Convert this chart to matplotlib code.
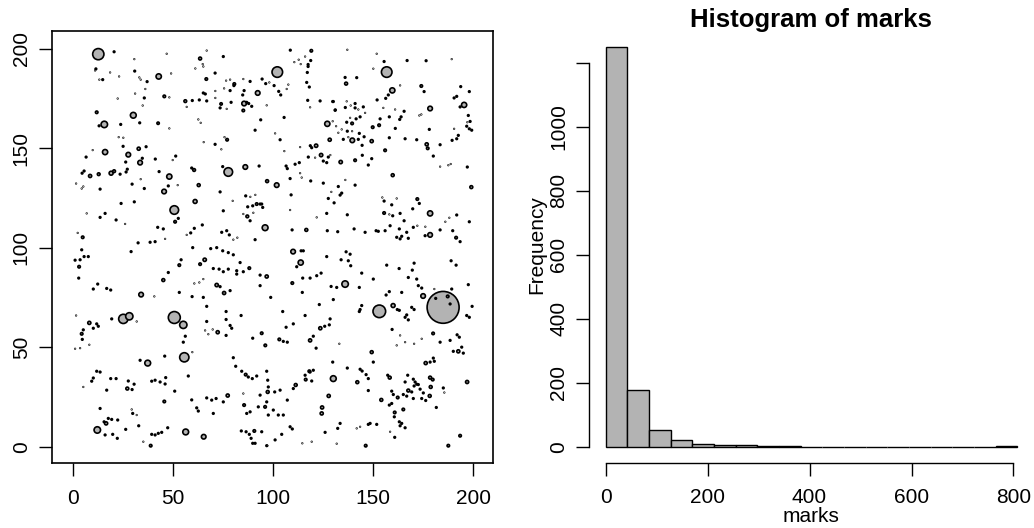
import numpy as np
import matplotlib
matplotlib.use("Agg")
import matplotlib.pyplot as plt
from matplotlib.patches import Circle
from matplotlib.collections import PatchCollection

plt.rcParams['font.family'] = ['Liberation Sans', 'DejaVu Sans']

# circles with a visible gray centre: (x, y, mark)
rings = [
    (12.5, 197.2, 284), (42.7, 186, 134), (45.5, 176, 64), (56, 173.6, 69), (11.7, 168, 64),
    (30, 166.5, 147), (15.5, 161.9, 163), (42.4, 162.5, 60), (15.9, 148, 131), (32.7, 149.7, 79),
    (27.5, 146.7, 116), (33.4, 142.7, 116),
    (63.4, 195, 74), (66.5, 184.7, 63), (80.5, 182.2, 63), (92.2, 177.7, 116), (73.9, 172.2, 60),
    (85.4, 172.4, 116), (85, 168.9, 63), (102, 188.2, 267), (119, 198.9, 63), (127, 162.2, 131),
    (128.2, 154.2, 79), (121.4, 151.2, 84), (123.9, 146.5, 84), (76.9, 154.2, 63), (77.5, 138, 217),
    (86, 140.5, 116), (60.4, 139, 69),
    (156.7, 188.2, 267), (136.4, 182.4, 74), (159.5, 179, 131), (174, 181.2, 63), (195.4, 171.7, 131),
    (178.4, 169.9, 116), (139.4, 162.4, 63), (139.5, 153.9, 116), (149.7, 160.5, 63), (152.9, 161.5, 63),
    (149.2, 153.5, 79), (155.9, 148.9, 63), (133.7, 143, 84), (140.9, 143.9, 63), (176.7, 151.9, 79),
    (177.2, 149.9, 63),
    (8.4, 136, 79), (12.7, 136.9, 69), (18.9, 137.4, 100), (20.4, 138.4, 69), (48, 135.7, 131),
    (45.4, 128.2, 116), (62.7, 131.4, 74), (96.9, 133.4, 74), (60.9, 123.2, 100), (91.7, 121.9, 63),
    (87, 115.7, 69), (95.9, 110, 147), (50.5, 118.9, 217), (50.9, 113, 63), (4.7, 105.2, 63),
    (101.7, 131.4, 116), (159.7, 136.4, 74), (199, 130.4, 74), (116.5, 108.9, 74), (172, 124.4, 63),
    (178.4, 117.2, 131), (155.4, 117.4, 63), (178.4, 106.4, 116), (191.4, 105, 63),
    (2.9, 90.4, 63), (8, 62.2, 79), (4.2, 56.7, 63), (25, 64.2, 234), (28, 65.5, 184),
    (33.9, 76.4, 116), (50.5, 64.9, 302), (55, 61.2, 184), (55.5, 44.9, 234), (37.2, 42, 147),
    (45, 83.7, 74), (53, 91.2, 63), (65.7, 93.9, 84), (63.4, 91.7, 63), (71.7, 81.2, 84),
    (75.4, 77.2, 79), (88, 89.7, 63), (96.7, 85.5, 79), (72.2, 57.5, 79), (94.2, 57, 63),
    (96, 50.9, 63), (86.2, 36.2, 63), (97.2, 27.5, 74), (85.4, 20.9, 63), (27, 29.2, 74),
    (45.5, 22.7, 63), (77.2, 25.7, 79), (16.4, 11.7, 79), (12, 8.4, 163), (56.2, 7.4, 147),
    (65.2, 5, 116), (38.7, 0.5, 63), (90.5, 7.9, 63),
    (109.9, 98, 116), (113.7, 92.5, 131), (109.5, 82.2, 63), (135.9, 81.7, 163), (153, 68, 319),
    (159.9, 70.9, 100), (174.9, 75.7, 116), (184.9, 70, 808), (187.2, 75.5, 63), (179.9, 56.9, 63),
    (192.5, 47.9, 79), (176.2, 42, 79), (196.9, 32.5, 79), (149.2, 47.5, 74), (158.2, 34.7, 74),
    (142, 32.4, 74), (154, 23.5, 74), (167.5, 28.2, 74), (162.2, 24.7, 63), (178.4, 34.7, 74),
    (179.7, 33.7, 63), (178.7, 30, 74), (178.2, 25.5, 74), (165, 18.7, 63), (160.7, 17.2, 63),
    (193.4, 5.5, 63), (187.5, 0.5, 63), (146.2, 0.5, 63), (130, 34.2, 147), (127.7, 25.5, 79),
    (124.4, 19.7, 79), (124.2, 16.7, 79), (118, 37.9, 63), (116.2, 33.7, 63), (111.2, 31, 74),
    (95.9, 20, 63), (103, 53.9, 63), (118.4, 53.4, 79), (123.5, 59.5, 79),
]

# small solid dots (x, y)
dot_mark = 40
dots = [
    (20.4, 198.4), (11.3, 189.8), (30.7, 188.7), (14.7, 184.4), (36.9, 183.4), (35.5, 175.2),
    (12.9, 161.2), (23.7, 161.9), (33.2, 162.7), (24.9, 150.9), (36.4, 150.7), (34.5, 144.9),
    (6.4, 145.5), (41, 144.5), (51.2, 146), (26.2, 143),
    (75, 196), (70.9, 187.7), (88.4, 183.5), (78.4, 178.9), (85.4, 178.9), (65, 177.7), (66, 177.2),
    (84.7, 176.7), (59.5, 173.9), (63, 174.2), (66.7, 173.7), (73.4, 170.2), (78.9, 173), (86.7, 173),
    (87.7, 172.4), (89.2, 171), (93.7, 164.2), (105.4, 165.4), (90.9, 159), (70.9, 151.9),
    (103.4, 154.2), (108.5, 199.2), (118.7, 194), (117.4, 192), (117.4, 191), (117, 188), (116.7, 183),
    (118, 180.7), (117.2, 174), (123.4, 173.7), (129.7, 173.4), (130.9, 169), (94.4, 184.7),
    (96.2, 182.4), (100.4, 181.4), (102.7, 178.5), (103.7, 176.7), (118.5, 151.2), (119.2, 150.2),
    (127.5, 145.5), (125, 143.5), (126.7, 142.7), (117.5, 145.5), (106.4, 141), (107, 139.7),
    (110.9, 141.9), (113, 142.7), (80.3, 181.4), (59.2, 140),
    (155.4, 193.5), (166.9, 194), (176.4, 193.9), (141.7, 185.4), (135.9, 185.5), (175.4, 178.4),
    (193.7, 180.9), (198, 178.4), (190.4, 175.2), (191.7, 176), (193.4, 170.7), (197.5, 166.4),
    (198.4, 163.4), (196.7, 161), (198, 159.7), (199.2, 159), (151.9, 174.2), (156.2, 175),
    (157.5, 176.7), (130, 173.4), (131, 169.2), (136, 170.4), (140.9, 172.4), (144.5, 146.4),
    (149.2, 144.7), (147.5, 141.5), (158, 155.2), (161, 159.9), (163.9, 165.7), (163.2, 164.4),
    (165.4, 168.5), (158, 165.7), (153.4, 164.7), (165.9, 154.7), (171.7, 154.2), (178, 159.4),
    (180, 146), (183.4, 151.7), (189.4, 153.9), (191.7, 154.7), (192.5, 156.4), (197, 140.5),
    (135, 154.4), (144.4, 151.4), (140.9, 170.2), (145, 170.7), (143.4, 165.7), (141.4, 164.7),
    (136.7, 163), (137, 158.5), (143, 157.4), (145.4, 155.7), (142.5, 154.4),
    (23.4, 136.9), (26.4, 138), (27, 139.4), (4.4, 137.4), (5.4, 138.5), (13.4, 129.4), (29.4, 131.9),
    (35.5, 129.7), (47.5, 131), (42.9, 138.2), (73.4, 128), (74.7, 140.7), (92.9, 141), (75, 118.5),
    (86.2, 126), (87.2, 120.5), (89.7, 121), (93.4, 121.9), (88.4, 113.5), (90.9, 104), (52.5, 114.7),
    (13.4, 115.2), (15.9, 117.2), (21.4, 113.9), (23.9, 122.2), (30.5, 123), (32.4, 102.4),
    (38.4, 102.7), (40.9, 103), (42.2, 110.2), (45, 109.4), (60.5, 109.7), (58.7, 107.4),
    (64.5, 111.4), (74.2, 107.7), (76.7, 108.5), (78, 106.4),
    (94.2, 121.9), (94.7, 120.2), (108.9, 126.5), (125, 132.4), (130.4, 122.5), (134.2, 127.4),
    (140.9, 131.4), (126.7, 117.2), (137, 116.5), (109.4, 108.9), (127, 108.5), (132.2, 108),
    (140.4, 109.4), (145.9, 107.7), (151.4, 108.5), (152.5, 108.2), (155.4, 123.4), (159.2, 121.5),
    (173, 122.2), (169.7, 119.5), (191.7, 116.4), (198, 113), (159.7, 116), (163.4, 117.2),
    (165.4, 113.5), (155.9, 108.5), (158.4, 111), (163, 109.4), (161.7, 105.2), (163.4, 104.4),
    (164.2, 105.7), (166.7, 107.7), (167.5, 104.7), (170, 110.2), (175.9, 106), (183.4, 108.9),
    (189.7, 108.5), (193.4, 103), (108.4, 134.7), (118.7, 133.5), (127.5, 124.7), (132.5, 130.7),
    (133.4, 126.4),
    (4.2, 98.9), (5.4, 95.5), (7.5, 95.5), (3.4, 93.9), (0.9, 93.7), (2.7, 84.7), (10, 79.2),
    (12.2, 81.7), (16.7, 79.5), (18.7, 78.7), (28.9, 98), (5, 58.7), (10, 59.5), (12.5, 60.5),
    (11.7, 61.7), (4.5, 53.9), (19.2, 64.2), (33.4, 43.4), (45.7, 45.5), (56, 55.5), (55, 52.5),
    (47.5, 87.5), (53.9, 93.9), (68.7, 99.5), (71.7, 100), (74.7, 98.4), (77.5, 97.5), (80, 96.4),
    (59.7, 100), (70, 89.5), (72.9, 89.2), (75, 87.9), (77.5, 89.2), (73.4, 80.4), (78.4, 78.4),
    (59.4, 75.4), (65, 75), (53, 77.5), (81.7, 88.4), (85, 87.9), (81.7, 86.7), (83.4, 92.5),
    (93.4, 86.2), (93.4, 80.9), (66.7, 70.5), (76.4, 67.9), (83.9, 65.9), (76.4, 63.9), (78.4, 60.9),
    (79.2, 59.5), (66.7, 62.9), (76.4, 55.9), (89.7, 54.5), (80, 44.7), (81.2, 40.4), (84.2, 37.9),
    (87.5, 35), (89.5, 34.2), (91.7, 35.5), (96.7, 37.9), (97.2, 33.4), (97.5, 30), (96.7, 22.5),
    (93.4, 25.9), (88.4, 17.5), (86.7, 16.7), (92.5, 20), (29.4, 28.7), (10, 34.5), (9.2, 32.9),
    (11.7, 37.9), (13.4, 37.5), (16.7, 28.4), (18.7, 34.2), (21.4, 34.2), (27.5, 33), (30.4, 31.4),
    (39.2, 32.9), (40.9, 33.4), (43.4, 32.5), (46.2, 34.7), (45.9, 31.5), (50.7, 27.9), (57.5, 35.5),
    (59.2, 23.5), (61.7, 19.5), (62.5, 17.9), (66.7, 24.5), (69.2, 23.4), (71.4, 24.2), (75, 22.5),
    (70, 16.7), (13.4, 19.2), (15.4, 12.5), (17.5, 14.2), (19.2, 13.7), (22.2, 13.4), (15.9, 5.9),
    (19.7, 6.2), (22, 4.2), (26.2, 8.7), (29.7, 16.7), (39.2, 6.2), (40.9, 5.9), (42.5, 6.7),
    (44.2, 7.2), (47.2, 9.5), (32.7, 10.5), (84, 7.9), (86.4, 7.5), (88, 6.2), (94.2, 7.5),
    (88.9, 4.2), (89.7, 1.7), (90.9, 1.7),
    (111.7, 90.4), (113.9, 98.4), (115, 98.4), (126.7, 95.5), (133.9, 93.9), (136.4, 97.9),
    (138.4, 96.7), (138.7, 90.9), (137.5, 93.4), (114.7, 84.7), (118.4, 84.7), (121.7, 85.9),
    (123.9, 87.2), (128.9, 80.5), (131.7, 80), (143, 80), (114.5, 77.5), (98.7, 75), (123, 71.4),
    (130, 73.9), (144.2, 70.9), (143.4, 68.9), (143, 67.9), (162, 68.9), (163, 68.5), (165.9, 65),
    (166.7, 66.2), (167.5, 63.7), (169.2, 70), (170.4, 68.9), (181.2, 74.5), (188.4, 71.7),
    (189.2, 79.2), (188.9, 93.4), (191.4, 91.2), (197.5, 81.4), (199.4, 70.5), (196.7, 65.9),
    (198, 65), (170.4, 92.2), (169.5, 88.7), (167.5, 85), (171.7, 84.2), (172.5, 80.9), (174.2, 79.7),
    (156.7, 91.2), (162.9, 89.5), (164.2, 77.5), (156.4, 76.2), (158, 77.9), (150, 84.2),
    (144.2, 87.2), (183.4, 52.5), (188.4, 53.4), (194.2, 50), (195, 47), (190, 47.9), (191.9, 56.2),
    (193, 55), (178.4, 42.5), (180, 44.5), (180.5, 42.9), (150, 42.5), (143.4, 38.9), (144.4, 38),
    (146.4, 36.2), (147.5, 34.2), (147.5, 28.2), (170.4, 30.5), (171.7, 31.4), (174.2, 24.2),
    (176.2, 23.2), (165.9, 32.5), (167.2, 35.9), (170, 33.9), (170.9, 32.5), (172.5, 31.2),
    (173.4, 28.9), (175, 27), (165, 26.2), (166.7, 25.4), (169.2, 27.5), (170, 24.2), (159.2, 27.9),
    (160, 26.2), (158, 20.9), (159.2, 21.7), (160.5, 15), (163, 12.5), (164.2, 11.7), (165.9, 9.5),
    (163.4, 10.5), (160.7, 4.7), (181.5, 19.7), (185, 29.5), (118.4, 37.5), (115.9, 35.9),
    (120, 38.4), (119.2, 33), (110, 29.2), (107, 23.4), (103.4, 28.4), (100.7, 27.5), (100, 18.4),
    (102.5, 15.9), (105, 15.9), (97.5, 15.9), (104.2, 6.2), (108.4, 10), (109.5, 8.9), (100.9, 3.4),
    (96.7, 0.5), (125.9, 7.2), (133.4, 11.7), (132.2, 9.2), (147.5, 11.2), (148.4, 11.7),
    (151.7, 11.2), (105, 52.9), (107, 52.5), (120, 55.5), (125.7, 60.5), (128, 61.2), (129.7, 42.5),
    (121.4, 49.5), (137, 39.5), (104.7, 67.9), (110, 61.7), (106.4, 60), (115.9, 65.9), (128.4, 64.2),
    (159.4, 58.9), (157.2, 35.9),
]

# barely visible specks (x, y)
speck_mark = 15
specks = [
    (46.7, 197.4), (30.5, 194.7), (10.9, 189), (18.4, 188), (22.9, 186), (13, 184.4), (33, 185.5),
    (33.7, 184.4), (48.9, 187.5), (36, 179.7), (30.9, 177.4), (48, 175.5), (22.2, 174.9),
    (56.7, 170.7), (34.7, 171.4), (48, 159.9), (22.7, 155.5), (25, 155.2), (9.7, 149), (49.7, 144),
    (66.7, 199), (64.7, 192.2), (65, 191), (61, 190), (76.4, 183.9), (78.4, 184.4), (85, 184.7),
    (75.4, 180), (71, 178.7), (71, 175.2), (76.7, 169.7), (96.7, 171.5), (62.5, 164.4), (63.7, 162.7),
    (100.9, 157.4), (65.2, 153), (74, 149.4), (105.5, 148.5), (110.5, 193.2), (112.7, 194.4),
    (113.7, 192.2), (115.9, 196), (118.4, 170.5), (113.4, 150.5), (120.9, 145.2), (107.5, 181.9),
    (106.7, 179.7), (98, 183), (128.5, 146.5), (75.6, 155.5),
    (151.7, 197.4), (137, 199.4), (150, 189.9), (163.4, 181.5), (189.2, 194.7), (136.7, 173.5),
    (138.7, 171.4), (142.5, 169.4), (145.9, 167.7), (138.4, 165.2), (134.2, 159.4), (139.4, 158.5),
    (137.5, 155.5), (129.7, 163.5), (131.4, 161), (132.5, 157.7), (155, 170.2), (160.9, 169.4),
    (173, 166.4), (174, 166.9), (190.4, 159.7), (187.5, 141.4), (188.7, 142), (183.4, 140.7),
    (197, 163),
    (1.4, 132.2), (4.2, 129.7), (5, 130.7), (33.7, 134.4), (52.2, 131.4), (79.7, 123.5),
    (88.5, 125.5), (91, 126.5), (85, 116.9), (90, 117.5), (6.7, 117.2), (25.9, 111.9), (2.2, 107.4),
    (45.9, 104.4), (56.7, 106.4), (82, 105), (80, 104),
    (108.4, 118.9), (121.7, 115.2), (154.5, 125.2), (161.7, 124.7), (113.4, 137.4), (114.2, 135.2),
    (129, 128), (136, 134), (172, 111), (158, 116.7), (176, 110.5), (188, 115), (186, 113),
    (1.4, 65.9), (0.9, 49.2), (3.4, 49.5), (8, 51.2), (31.7, 62.9), (40.5, 75.5), (59.5, 47.5),
    (65, 84.2), (63, 82.5), (60.5, 82), (65.9, 58.4), (67.5, 56.5), (69.7, 58.9), (85, 26.7),
    (5, 30), (29.2, 18.7), (31.7, 15.9), (35, 2.5), (97, 0.5),
    (180.5, 79.2), (158.4, 7.5), (185.5, 27.2), (114.5, 1.7), (119.2, 2.5), (143.4, 10),
    (141.7, 9.2), (131.7, 1.5), (133, 51.7), (163.4, 55.9), (161.7, 50.9), (165.9, 52.5),
    (170.4, 51.7), (174.2, 54.2),
]

# histogram of all marks: bin counts
bin_width = 42.5
hist_counts = [1248, 177, 51, 22, 8, 4, 4, 1, 1, 0, 0, 0, 0, 0, 0, 0, 0, 0, 1]

gray = "#b3b3b3"
fig = plt.figure(figsize=(10.34, 5.28), dpi=100)

# ---- marked point pattern ----
ax1 = fig.add_axes([0.0500, 0.1237, 0.4268, 0.8167])
pts = [(x, y, m) for x, y, m in rings]
pts += [(x, y, dot_mark) for x, y in dots]
pts += [(x, y, speck_mark) for x, y in specks]
pts.sort(key=lambda p: -p[2])
diam_per_mark = 1 / 50.5
circles = [Circle((x, y), m * diam_per_mark / 2) for x, y, m in pts]
ax1.add_collection(PatchCollection(circles, facecolor=gray, edgecolor="black", linewidth=1.2))
ax1.set_xlim(-10.8, 209.85)
ax1.set_ylim(-8.04, 208.6)
ticks = [0, 50, 100, 150, 200]
ax1.set_xticks(ticks, labels=[str(t) for t in ticks])
ax1.set_yticks(ticks, labels=[str(t) for t in ticks], rotation=90, va="center")
ax1.tick_params(axis="both", length=9.5, width=1.0, labelsize=15)
ax1.tick_params(axis="x", pad=9.5)
ax1.tick_params(axis="y", pad=5.5)
for s in ax1.spines.values():
    s.set_linewidth(1.2)

# ---- histogram ----
ax2 = fig.add_axes([589.2 / 1034, 0.1237, (1034 - 589.2) / 1034, 0.8167])
edges = np.arange(len(hist_counts) + 1) * bin_width
ax2.bar(edges[:-1], hist_counts, width=bin_width, align="edge",
        color=gray, edgecolor="black", linewidth=1.0)
ax2.set_xlim(-32.3, 840.3)
ax2.set_ylim(-50, 1298)
ax2.spines["top"].set_visible(False)
ax2.spines["right"].set_visible(False)
ax2.spines["left"].set_bounds(0, 1200)
ax2.spines["bottom"].set_bounds(0, 800)
for s in ax2.spines.values():
    s.set_linewidth(1.0)
xt = [0, 200, 400, 600, 800]
ax2.set_xticks(xt, labels=[str(t) for t in xt])
yt = [0, 200, 400, 600, 800, 1000, 1200]
ax2.set_yticks(yt, labels=[str(t) if t < 1200 else "" for t in yt], rotation=90, va="center")
ax2.tick_params(axis="both", length=9.5, width=1.0, labelsize=15)
ax2.tick_params(axis="x", pad=9)
ax2.tick_params(axis="y", pad=5.5)

fig.text(811 / 1034, 1 - 20 / 528, "Histogram of marks", ha="center", va="center",
         fontsize=18.5, fontweight="bold")
fig.text(811 / 1034, 1 - 522 / 528, "marks", ha="center", va="baseline", fontsize=15)
fig.text(536.7 / 1034, 1 - 245 / 528, "Frequency", ha="center", va="center",
         fontsize=15, rotation=90)

fig.savefig("out.png", dpi=100, facecolor="white")
